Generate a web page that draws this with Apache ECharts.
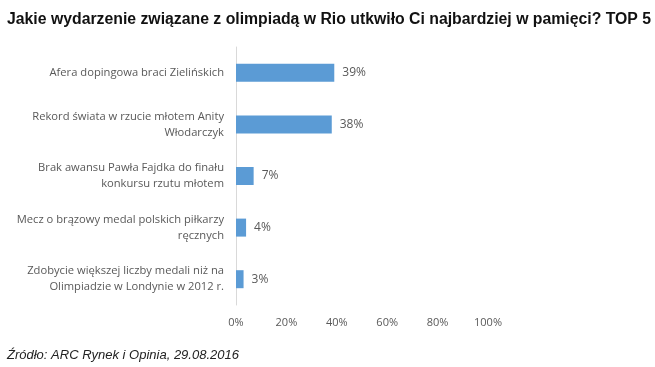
<!DOCTYPE html>
<html><head><meta charset="utf-8">
<script src="https://cdn.jsdelivr.net/npm/echarts@6/dist/echarts.min.js"></script>
<style>html,body{margin:0;padding:0;background:#fff}#c{width:655px;height:367px}</style>
</head><body><div id="c"></div>
<script>
const categories = [
  "Afera dopingowa braci Zielińskich",
  "Rekord świata w rzucie młotem Anity\nWłodarczyk",
  "Brak awansu Pawła Fajdka do finału\nkonkursu rzutu młotem",
  "Mecz o brązowy medal polskich piłkarzy\nręcznych",
  "Zdobycie większej liczby medali niż na\nOlimpiadzie w Londynie w 2012 r."
];
const values = [39, 38, 7, 4, 3];
const xTicks = [0, 20, 40, 60, 80, 100];

const chart = echarts.init(document.getElementById('c'));
chart.setOption({
  animation: false,
  title: [{
    text: "Jakie wydarzenie związane z olimpiadą w Rio utkwiło Ci najbardziej w pamięci? TOP 5",
    left: 7, top: 12, padding: 0,
    textStyle: {fontFamily: "Liberation Sans", fontWeight: "bold", fontSize: 15.8, color: "#111"}
  }, {
    text: "Źródło: ARC Rynek i Opinia, 29.08.2016",
    left: 7, top: 349, padding: 0,
    textStyle: {fontFamily: "Liberation Sans", fontStyle: "italic", fontWeight: "normal", fontSize: 13, color: "#222"}
  }],
  grid: {left: 236, right: 167, top: 47, bottom: 62, containLabel: false},
  xAxis: {
    type: 'value', min: xTicks[0], max: xTicks[xTicks.length-1], interval: 20,
    axisLine: {show: false}, axisTick: {show: false}, splitLine: {show: false},
    axisLabel: {formatter: '{value}%', color: '#595959', fontSize: 11, fontFamily: 'Open Sans', margin: 12}
  },
  yAxis: {
    type: 'category', data: categories, inverse: true,
    axisLine: {show: true, lineStyle: {color: '#d9d9d9', width: 1}},
    axisTick: {show: false},
    axisLabel: {color: '#595959', fontSize: 11.2, fontFamily: 'Open Sans', margin: 12, lineHeight: 16, align: 'right'}
  },
  series: [{
    type: 'bar', data: values, barWidth: 18,
    itemStyle: {color: '#5B9BD5'},
    label: {show: true, position: 'right', distance: 8, formatter: '{c}%', color: '#595959', fontSize: 12, fontFamily: 'Open Sans'}
  }]
});
</script></body></html>
